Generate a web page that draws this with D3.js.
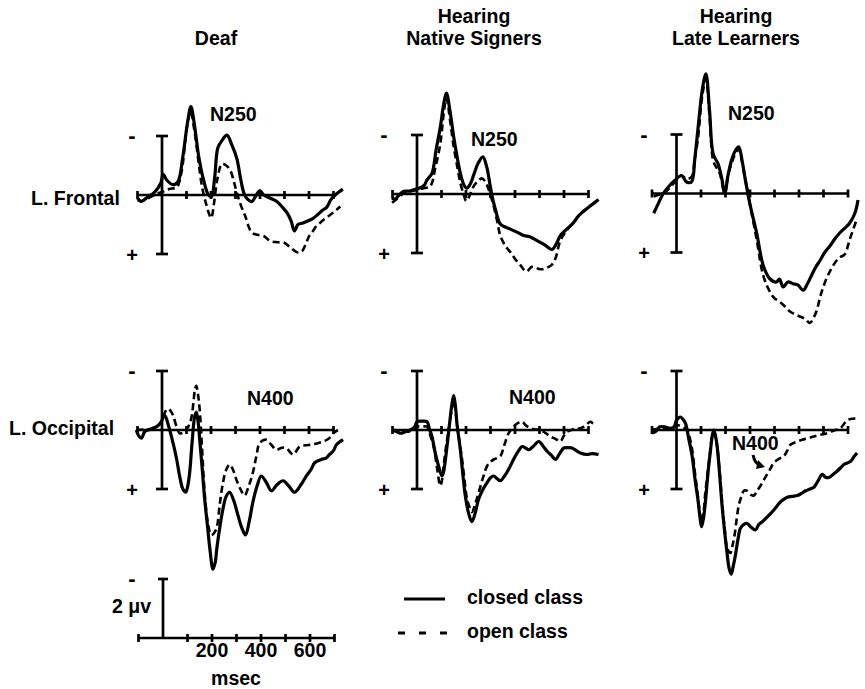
<!DOCTYPE html>
<html lang="en">
<head>
<meta charset="UTF-8">
<title>ERP waveforms: closed vs open class</title>
<style>
  body { margin: 0; background: #fff; }
  svg { display: block; }
  text { font-family: "Liberation Sans", Arial, Helvetica, sans-serif; font-weight: bold; fill: #000; }
  .axis { stroke: #000; stroke-width: 2.7; fill: none; }
  .closed { stroke: #000; stroke-width: 3.2; fill: none; stroke-linejoin: round; }
  .open { stroke: #000; stroke-width: 2.6; fill: none; stroke-dasharray: 7 4; }
</style>
<script src="https://d3js.org/d3.v7.min.js"></script>
</head>
<body>
<script>
// ---- data (time in ms, amplitude in microvolts; negative plotted up) ----
const groups = [["Deaf"], ["Hearing", "Native Signers"], ["Hearing", "Late Learners"]];
const sites = ["L. Frontal", "L. Occipital"];
const components = ["N250", "N400"];
const classes = ["closed class", "open class"];
const timeTicks = [-100, 100, 200, 300, 400, 500, 600, 700];
const timeLabels = [200, 400, 600];
const scaleLabel = "2 \u03bcv";
const timeUnit = "msec";

const deafFrontalClosed = [[-100,0.1],[-85,0.22],[-60,0.08],[-30,-0.1],[-5,-0.4],[5,-0.7],[20,-0.5],[45,-0.35],[65,-0.45],[85,-1.3],[105,-2.5],[118,-3.0],[132,-2.4],[150,-1.3],[170,-0.5],[190,0.0],[202,0.05],[215,-0.6],[228,-1.6],[245,-1.85],[265,-2.03],[285,-1.7],[305,-1.25],[322,-0.5],[335,-0.05],[350,0.15],[367,0.22],[385,0.0],[399,-0.15],[415,0.0],[440,0.1],[469,0.22],[490,0.4],[510,0.6],[528,0.9],[540,1.22],[555,1.0],[575,0.95],[595,0.88],[615,0.8],[635,0.67],[655,0.52],[672,0.42],[690,0.15],[707,0.0],[722,-0.1],[738,-0.2]];
const deafFrontalOpen = [[-100,0.17],[-80,0.2],[-50,0.08],[-20,-0.05],[0,-0.1],[20,-0.18],[40,-0.22],[60,-0.25],[80,-0.8],[100,-2.2],[116,-2.83],[132,-2.2],[148,-1.2],[163,-0.3],[180,0.3],[195,0.7],[201,0.78],[212,0.3],[225,-0.5],[245,-1.06],[262,-1.0],[279,-0.83],[295,-0.4],[306,-0.06],[322,0.35],[340,0.72],[355,1.1],[367,1.28],[390,1.35],[415,1.39],[442,1.56],[470,1.6],[497,1.61],[520,1.75],[551,1.94],[570,1.92],[585,1.7],[600,1.4],[612,1.28],[630,1.05],[646,0.94],[665,0.8],[687,0.67],[705,0.55],[728,0.39]];

const nativeFrontalClosed = [[-102,0.13],[-90,0.18],[-75,0.05],[-54,-0.09],[-30,-0.1],[-14,-0.14],[10,-0.2],[30,-0.3],[41,-0.48],[61,-0.7],[78,-1.5],[95,-2.26],[110,-3.1],[120,-3.42],[135,-2.8],[150,-1.92],[165,-1.2],[177,-0.7],[192,-0.3],[204,-0.2],[218,-0.35],[231,-0.64],[250,-1.05],[269,-1.26],[285,-0.9],[299,-0.26],[310,0.2],[320,0.52],[340,1.02],[360,1.12],[381,1.19],[410,1.3],[435,1.41],[460,1.45],[490,1.58],[520,1.72],[551,1.88],[568,1.7],[585,1.41],[610,1.2],[639,0.97],[655,0.78],[673,0.63],[690,0.52],[707,0.41],[741,0.19]];
const nativeFrontalOpen = [[-102,0.3],[-80,0.15],[-54,-0.03],[-20,-0.1],[0,-0.14],[30,-0.2],[54,-0.26],[75,-0.9],[95,-1.7],[110,-2.8],[120,-3.26],[135,-2.5],[150,-1.59],[165,-0.9],[177,-0.37],[190,0.0],[201,0.24],[215,0.05],[231,-0.26],[250,-0.45],[265,-0.53],[280,-0.4],[293,-0.14],[313,0.41],[328,0.95],[340,1.41],[360,1.75],[381,1.97],[400,2.2],[422,2.41],[446,2.63],[469,2.47],[490,2.52],[510,2.55],[530,2.5],[550,2.4],[565,2.19],[585,1.58],[610,1.25],[639,0.97],[670,0.66],[707,0.4],[741,0.19]];

const lateFrontalClosed = [[-93,0.67],[-75,0.35],[-54,0.0],[-27,-0.28],[-7,-0.44],[20,-0.61],[41,-0.39],[61,-0.39],[75,-1.2],[88,-2.22],[105,-3.5],[120,-4.06],[135,-2.8],[150,-1.33],[170,-1.0],[185,-0.5],[197,0.0],[210,-0.6],[224,-1.11],[240,-1.45],[254,-1.58],[268,-1.1],[279,-0.56],[299,0.33],[327,1.33],[354,2.44],[381,2.89],[408,3.0],[420,2.9],[435,3.17],[455,3.0],[476,3.06],[495,3.1],[517,3.28],[535,3.05],[551,2.78],[568,2.5],[585,2.28],[605,2.0],[626,1.78],[645,1.55],[667,1.33],[690,1.15],[707,1.0],[728,0.67],[741,0.22]];
const lateFrontalOpen = [[-93,0.1],[-75,0.05],[-54,0.0],[-27,-0.2],[-7,-0.39],[20,-0.61],[40,-0.5],[61,-0.56],[75,-1.2],[88,-1.89],[105,-3.3],[120,-3.89],[135,-2.6],[150,-1.11],[165,-0.85],[177,-0.67],[197,0.0],[210,-0.6],[224,-1.0],[240,-1.35],[254,-1.5],[268,-1.05],[279,-0.56],[299,0.33],[327,1.55],[354,2.78],[381,3.33],[400,3.55],[422,3.67],[445,3.85],[463,4.0],[485,4.1],[503,4.17],[525,4.25],[544,4.39],[560,4.2],[571,4.0],[590,3.4],[612,2.89],[632,2.55],[653,2.28],[670,2.15],[687,2.06],[707,1.56],[735,0.89]];

const deafOccipitalClosed = [[-105,0.0],[-95,0.2],[-84,0.28],[-70,0.05],[-50,-0.02],[-37,-0.06],[-15,-0.15],[-3,-0.28],[11,-0.5],[28,-0.1],[45,0.44],[60,1.0],[72,1.56],[85,2.0],[97,2.11],[105,1.9],[113,1.44],[123,0.4],[133,-0.44],[140,-0.61],[147,-0.3],[154,0.33],[164,1.3],[174,2.33],[185,3.2],[195,4.0],[208,4.72],[217,4.5],[224,4.0],[236,3.3],[249,2.67],[262,2.25],[276,2.11],[293,2.4],[310,2.89],[325,3.3],[341,3.56],[356,3.1],[371,2.44],[388,1.9],[405,1.56],[426,1.78],[446,2.06],[470,1.85],[494,1.72],[518,1.9],[541,2.11],[569,1.83],[590,1.55],[609,1.33],[623,1.11],[650,1.0],[670,0.95],[684,0.83],[700,0.7],[712,0.5],[739,0.33]];
const deafOccipitalOpen = [[-105,0.0],[-70,-0.02],[-37,-0.05],[-3,-0.28],[12,-0.6],[24,-0.72],[35,-0.65],[45,-0.5],[60,-0.1],[72,0.11],[93,0.06],[113,-0.22],[122,-0.5],[129,-1.0],[135,-1.4],[140,-1.5],[147,-1.2],[154,-0.67],[164,0.7],[174,2.11],[188,3.2],[201,3.56],[212,3.5],[224,3.28],[236,2.5],[249,1.78],[262,1.35],[276,1.17],[290,1.35],[303,1.67],[320,2.0],[337,2.22],[354,1.9],[371,1.44],[385,0.9],[399,0.44],[426,0.33],[446,0.5],[467,0.67],[490,0.6],[507,0.61],[535,0.83],[562,0.56],[585,0.52],[609,0.5],[635,0.45],[657,0.39],[680,0.3],[698,0.11],[718,0.0]];

const nativeOccipitalClosed = [[-102,0.0],[-85,0.05],[-68,0.11],[-45,0.05],[-27,0.0],[-10,-0.1],[0,-0.28],[20,-0.3],[41,-0.28],[50,-0.05],[61,0.22],[75,0.8],[88,1.22],[102,1.56],[109,1.4],[116,1.0],[126,0.3],[136,-0.44],[143,-0.9],[150,-1.17],[157,-0.8],[163,-0.22],[177,0.67],[187,1.5],[197,2.22],[210,2.8],[224,3.11],[238,2.8],[252,2.33],[270,2.0],[286,1.78],[300,1.62],[313,1.56],[327,1.65],[340,1.72],[358,1.55],[374,1.33],[388,1.1],[401,0.89],[415,0.7],[429,0.56],[445,0.62],[456,0.67],[475,0.55],[497,0.39],[515,0.55],[531,0.72],[548,0.85],[565,1.0],[582,0.8],[599,0.61],[616,0.6],[633,0.61],[650,0.7],[667,0.78],[694,0.83],[715,0.8],[741,0.83]];
const nativeOccipitalOpen = [[-102,0.0],[-68,0.02],[-27,0.05],[0,-0.11],[20,-0.12],[41,-0.11],[55,0.2],[68,0.56],[82,1.3],[95,1.89],[102,1.7],[109,1.2],[118,0.6],[129,0.0],[140,-0.6],[150,-1.0],[157,-0.7],[163,-0.2],[173,0.4],[184,1.0],[194,1.7],[204,2.33],[214,2.6],[224,2.78],[238,2.5],[252,2.11],[270,1.6],[286,1.22],[300,1.08],[313,1.0],[327,0.95],[340,0.89],[357,0.5],[374,0.11],[388,-0.05],[401,-0.17],[415,-0.25],[429,-0.28],[445,-0.15],[462,-0.06],[482,-0.02],[503,0.0],[524,0.1],[544,0.22],[565,0.3],[585,0.39],[599,0.2],[612,0.06],[630,0.0],[646,-0.06],[662,-0.05],[680,-0.11],[694,-0.2],[707,-0.28],[720,-0.22],[735,-0.17]];

const lateOccipitalClosed = [[-100,0.1],[-85,0.05],[-68,-0.11],[-45,-0.1],[-27,-0.06],[-10,-0.1],[0,-0.33],[16,-0.44],[28,-0.35],[37,-0.22],[50,0.3],[64,0.89],[76,1.7],[87,2.33],[95,2.9],[102,3.28],[110,3.0],[118,2.44],[128,1.5],[139,0.67],[145,0.25],[152,0.0],[159,0.2],[166,0.56],[176,1.5],[186,2.56],[196,3.4],[207,4.22],[215,4.7],[223,4.89],[232,4.6],[241,4.22],[251,3.7],[261,3.33],[275,3.2],[288,3.17],[305,3.3],[322,3.39],[336,3.2],[350,3.11],[370,2.95],[390,2.78],[408,2.6],[424,2.44],[438,2.35],[452,2.28],[472,2.25],[493,2.22],[510,2.15],[527,2.06],[545,2.0],[561,1.94],[578,1.72],[595,1.5],[608,1.6],[622,1.61],[640,1.5],[656,1.39],[670,1.28],[683,1.17],[697,1.12],[711,1.06],[725,0.9],[737,0.78]];
const lateOccipitalOpen = [[-100,0.0],[-68,-0.05],[-27,-0.05],[0,-0.17],[23,-0.11],[44,0.0],[55,0.3],[64,0.67],[76,1.5],[87,2.22],[95,2.8],[102,3.11],[110,2.8],[118,2.1],[128,1.4],[139,0.6],[145,0.2],[152,0.05],[159,0.2],[166,0.56],[176,1.4],[186,2.44],[196,3.3],[207,4.0],[220,4.17],[229,3.9],[237,3.56],[246,3.0],[254,2.56],[265,2.25],[275,2.06],[285,2.05],[295,2.11],[305,2.2],[316,2.22],[330,2.05],[343,1.89],[356,1.7],[370,1.5],[384,1.3],[397,1.11],[418,0.98],[438,0.89],[452,0.7],[465,0.5],[490,0.4],[513,0.33],[537,0.28],[561,0.22],[588,0.16],[615,0.11],[642,0.02],[669,-0.06],[683,-0.2],[697,-0.33],[715,-0.38],[737,-0.39]];

// ---- layout ----
const width = 865, height = 689;
const colX0 = [162, 417, 676.5];          // x of time 0 per column
const rowBase = [[195, 194, 193.5], [430, 430, 430]];
const halfAxis = 59;                       // px for 2 microvolts
const msPx = 0.245;                        // px per ms

const panels = [
  {row: 0, col: 0, closed: deafFrontalClosed,     open: deafFrontalOpen,     lx: 210, ly: 121, mx: 132},
  {row: 0, col: 1, closed: nativeFrontalClosed,   open: nativeFrontalOpen,   lx: 471, ly: 146, mx: 384},
  {row: 0, col: 2, closed: lateFrontalClosed,     open: lateFrontalOpen,     lx: 728, ly: 120, mx: 644},
  {row: 1, col: 0, closed: deafOccipitalClosed,   open: deafOccipitalOpen,   lx: 247, ly: 405, mx: 132},
  {row: 1, col: 1, closed: nativeOccipitalClosed, open: nativeOccipitalOpen, lx: 509, ly: 404, mx: 384},
  {row: 1, col: 2, closed: lateOccipitalClosed,   open: lateOccipitalOpen,   lx: 732, ly: 450, mx: 644}
];

const svg = d3.select("body").append("svg")
  .attr("width", width)
  .attr("height", height);

function xScaleFor(x0) {
  return d3.scaleLinear().domain([-100, 700]).range([x0 - 100 * msPx, x0 + 700 * msPx]);
}
function yScaleFor(base) {
  // negative up, as in ERP convention
  return d3.scaleLinear().domain([-2, 2]).range([base - halfAxis, base + halfAxis]);
}

function drawTimeAxis(g, x, y0) {
  g.append("line").attr("class", "axis")
    .attr("x1", x(-100)).attr("x2", x(700))
    .attr("y1", y0).attr("y2", y0);
  g.selectAll(".tick").data(timeTicks).enter()
    .append("line").attr("class", "axis tick")
    .attr("x1", d => x(d)).attr("x2", d => x(d))
    .attr("y1", y0 - 4).attr("y2", y0 + 4);
}

// column titles
groups.forEach((lines, i) => {
  const cx = [216, 474, 736][i];
  const t = svg.append("text").attr("text-anchor", "middle").attr("font-size", 19.5);
  lines.forEach((s, j) => {
    t.append("tspan").attr("x", cx)
      .attr("y", lines.length === 1 ? 44.5 : 22.5 + j * 22.5)
      .text(s);
  });
});

// row labels
svg.append("text").attr("x", 31).attr("y", 205).attr("font-size", 19.5).text(sites[0]);
svg.append("text").attr("x", 9).attr("y", 435).attr("font-size", 19.5).text(sites[1]);

const line = d3.line().curve(d3.curveCatmullRom.alpha(0.5));

panels.forEach(p => {
  const base = rowBase[p.row][p.col];
  const x = xScaleFor(colX0[p.col]);
  const y = yScaleFor(base);
  const g = svg.append("g");

  drawTimeAxis(g, x, y(0));

  // voltage axis with caps
  g.append("line").attr("class", "axis")
    .attr("x1", x(0)).attr("x2", x(0)).attr("y1", y(-2)).attr("y2", y(2));
  [-2, 2].forEach(v => {
    g.append("line").attr("class", "axis")
      .attr("x1", x(0) - 6).attr("x2", x(0) + 6).attr("y1", y(v)).attr("y2", y(v));
  });

  g.append("text").attr("x", p.mx).attr("y", y(-2) + 7)
    .attr("text-anchor", "middle").attr("font-size", 22).text("-");
  g.append("text").attr("x", p.mx).attr("y", y(2) + 7.5)
    .attr("text-anchor", "middle").attr("font-size", 20).text("+");

  line.x(d => x(d[0])).y(d => y(d[1]));
  g.append("path").attr("class", "open").attr("d", line(p.open));
  g.append("path").attr("class", "closed").attr("d", line(p.closed));

  g.append("text").attr("x", p.lx).attr("y", p.ly).attr("font-size", 19.5)
    .text(components[p.row]);
});

// small arrow from the late learners N400 label
svg.append("path")
  .attr("d", "M753,455 Q755,464 760,465")
  .attr("stroke", "#000").attr("stroke-width", 3).attr("fill", "none");
svg.append("path")
  .attr("d", "M758,460 L765,467 L756,469 Z")
  .attr("fill", "#000");

// scale bar panel
{
  const x = xScaleFor(163);
  const yb = d3.scaleLinear().domain([-2, 0]).range([579, 638]);
  const g = svg.append("g");
  drawTimeAxis(g, x, yb(0));
  g.append("line").attr("class", "axis")
    .attr("x1", x(0)).attr("x2", x(0)).attr("y1", yb(-2)).attr("y2", yb(0));
  g.append("line").attr("class", "axis")
    .attr("x1", x(0) - 5).attr("x2", x(0) + 5).attr("y1", yb(-2)).attr("y2", yb(-2));
  g.append("text").attr("x", 132).attr("y", 586).attr("text-anchor", "middle")
    .attr("font-size", 22).text("-");
  g.append("text").attr("x", 112).attr("y", 613).attr("font-size", 19.5).text(scaleLabel);
  g.selectAll(".tlabel").data(timeLabels).enter()
    .append("text").attr("class", "tlabel")
    .attr("x", d => x(d)).attr("y", 657)
    .attr("text-anchor", "middle").attr("font-size", 19.5)
    .text(d => d);
  g.append("text").attr("x", 236).attr("y", 685).attr("text-anchor", "middle")
    .attr("font-size", 19.5).text(timeUnit);
}

// legend
const legend = svg.append("g");
legend.append("line")
  .attr("x1", 404).attr("x2", 445).attr("y1", 599).attr("y2", 599)
  .attr("stroke", "#000").attr("stroke-width", 3.2);
legend.append("line")
  .attr("x1", 398).attr("x2", 449).attr("y1", 633).attr("y2", 633)
  .attr("stroke", "#000").attr("stroke-width", 3)
  .attr("stroke-dasharray", "7 14");
legend.selectAll(".ltext").data(classes).enter()
  .append("text").attr("class", "ltext")
  .attr("x", 467).attr("y", (d, i) => 604 + i * 34)
  .attr("font-size", 19.5)
  .text(d => d);
</script>
</body>
</html>
